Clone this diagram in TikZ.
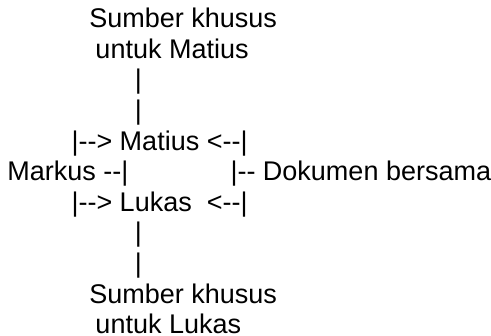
\documentclass[tikz,border=0pt]{standalone}
\usepackage{fontspec}
\setmainfont{Liberation Sans}[Ligatures=TeXOff]
\begin{document}
\begin{tikzpicture}[x=1pt,y=1pt,
  txt/.style={anchor=base west,inner sep=0pt,outer sep=0pt,font=\fontsize{27}{30}\selectfont,text=black}]
\useasboundingbox[fill=white] (0,0) rectangle (491,-336);
\node[txt] (s1)  at (89.4,-27.7)  {Sumber khusus};
\node[txt] (s1b) at (95.5,-58.3)  {untuk Matius};
\node[txt] (p1)  at (134.8,-88.9) {|};
\node[txt] (p2)  at (134.8,-119.5) {|};
\node[txt] (mat) at (71.5,-150.1) {|--> Matius <--|};
\node[txt] (mar) at (7.3,-180.7)  {Markus --|};
\node[txt] (dok) at (230.5,-180.7) {|-- Dokumen bersama};
\node[txt] (luk) at (71.5,-211.3) {|--> Lukas\ \ <--|};
\node[txt] (p3)  at (134.8,-241.9) {|};
\node[txt] (p4)  at (134.8,-272.5) {|};
\node[txt] (s2)  at (89.4,-303.1) {Sumber khusus};
\node[txt] (s2b) at (95.5,-333.7) {untuk Lukas};
\end{tikzpicture}
\end{document}
